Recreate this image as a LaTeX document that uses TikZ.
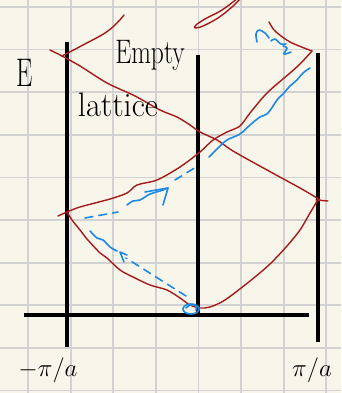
\documentclass[tikz,border=0pt]{standalone}
\usetikzlibrary{arrows.meta,decorations.pathmorphing}
\definecolor{paper}{HTML}{F8F6EA}
\definecolor{gridc}{HTML}{D2D2D2}
\definecolor{band}{HTML}{A51A1A}
\definecolor{pen}{HTML}{1E88E5}
\tikzset{
  axisline/.style={line width=4pt,black},
  bandline/.style={line width=1.4pt,band,line cap=round,line join=round},
  bluepen/.style={line width=1.6pt,pen,line cap=round,line join=round},
  bluedash/.style={bluepen,dash pattern=on 8pt off 6pt},
  hand/.style={inner sep=0pt,black}
}
\begin{document}
\begin{tikzpicture}[x=1pt,y=-1pt]
\fill[paper] (0,0) rectangle (341,393);
\useasboundingbox (0,0) rectangle (341,393);
% grid
\foreach \i in {0,...,7} {\draw[gridc,line width=1.8pt] ({28+42.6*\i},0) -- ({28+42.6*\i},393);}
\foreach \j in {0,...,9} {\draw[gridc,line width=1.8pt] (0,{7+42.6*\j}) -- (341,{7+42.6*\j});}
% axes
\coordinate (lt) at (67,42); \coordinate (lb) at (67,347);
\coordinate (mt) at (198,55); \coordinate (mb) at (198,316);
\coordinate (rt) at (318,53); \coordinate (rb) at (318,342);
\coordinate (ax1) at (24,315); \coordinate (ax2) at (309,315);
\draw[axisline] (lt) -- (lb);
\draw[axisline] (mt) -- (mb);
\draw[axisline] (rt) -- (rb);
\draw[axisline] (ax1) -- (ax2);
% red bands
\draw[bandline] plot[smooth,tension=0.5] coordinates {(50,50) (62,56) (80,66) (107,83) (135,96) (160,110) (177,117) (190,125) (200,132) (217,140) (233,151) (267,170) (300,188) (317,198) (320,200)};
\draw[bandline] plot[smooth,tension=0.6] coordinates {(62,56) (83,45) (105,33) (117,23) (124,15)};
\draw[bandline] plot[smooth,tension=0.6] coordinates {(238,-2) (222,10) (205,19) (196,25) (195,28) (203,26) (218,18) (232,7) (240,-1)};
\draw[bandline] plot[smooth,tension=0.5] coordinates {(269,22) (275,31) (290,42) (312,51)};
\draw[bandline] plot[smooth,tension=0.5] coordinates {(312,51) (300,64) (290,73) (267,93) (250,113) (240,126) (227,132) (213,140) (200,152) (180,167) (157,180) (137,185) (127,193) (110,199) (80,207) (67,212) (58,216)};
\draw[bandline] plot[smooth,tension=0.5] coordinates {(67,212) (72,220) (80,230) (87,239) (100,253) (107,258) (120,270) (133,277) (150,285) (167,290) (180,298) (190,305) (200,308) (210,307) (225,300) (250,281) (270,264) (287,246) (300,230) (310,213) (316,203) (318,199)};
\draw[bandline] (316,200) -- (328,201);
% blue strokes
\draw[bluepen] (191,309) ellipse[x radius=8, y radius=5];
\draw[bluepen] (186,308) .. controls (190,303) and (198,303) .. (196,310);
\draw[bluedash] (186,296) -- (126,258);
\draw[bluepen] plot[smooth,tension=0.6] coordinates {(90,231) (97,238) (103,240) (110,247) (117,251)};
\draw[bluepen] (127,255) -- (120,252) -- (124,262);
\draw[bluedash] (85,218) -- (118,212);
\draw[bluepen] plot[smooth,tension=0.6] coordinates {(127,205) (133,201) (140,200) (150,194) (160,191) (168,188)};
\draw[bluepen] (145,192) -- (168,188) -- (163,205);
\draw[bluedash] (175,180) -- (196,167);
\draw[bluepen] plot[smooth,tension=0.6] coordinates {(209,157) (218,148) (227,140) (240,134) (250,125) (260,117) (268,113) (277,100) (283,94) (290,86) (297,80) (303,73) (310,68)};
\draw[bluepen] plot[smooth,tension=0.6] coordinates {(257,42) (256,34) (259,30) (265,33) (269,38)};
\draw[bluepen] plot[smooth,tension=0.6] coordinates {(271,41) (275,39) (281,44) (286,44)};
\draw[bluepen] plot[smooth,tension=0.6] coordinates {(283,46) (287,48) (284,54) (291,52)};
% labels
\node[hand,anchor=base,xscale=0.75] (empty) at (150,64) {\fontsize{34}{34}\selectfont Empty};
\node[hand,anchor=base,xscale=0.95] (lat) at (118,117) {\fontsize{34}{34}\selectfont lattice};
\node[hand,xscale=0.65] (en) at (25,73) {\fontsize{40}{40}\selectfont E};
\node[hand] (kl) at (48,370) {\fontsize{28}{28}\selectfont$-\pi/a$};
\node[hand] (kr) at (312,370) {\fontsize{28}{28}\selectfont$\pi/a$};
\end{tikzpicture}
\end{document}
